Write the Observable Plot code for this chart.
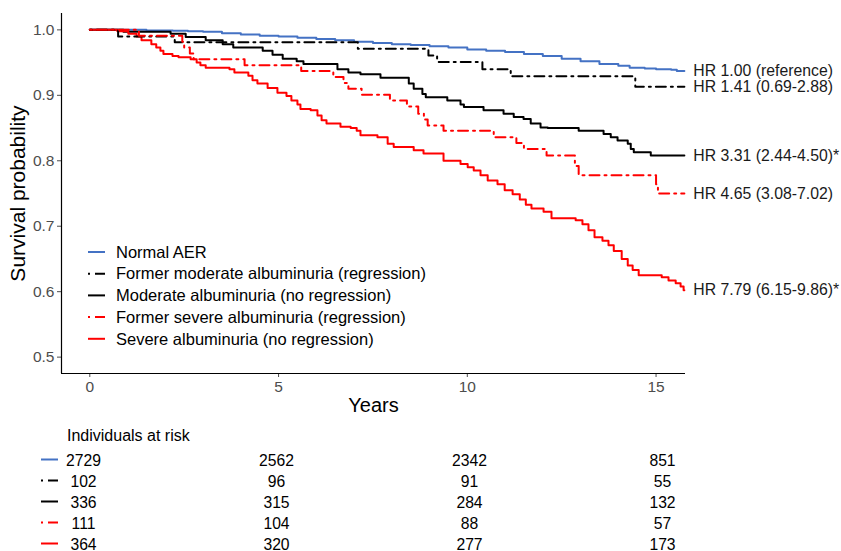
<!DOCTYPE html>
<html>
<head>
<meta charset="utf-8">
<script src="https://cdn.jsdelivr.net/npm/d3@7"></script>
<script src="https://cdn.jsdelivr.net/npm/@observablehq/plot@0.6"></script>
<style>
  body { margin: 0; background: #fff; font-family: "Liberation Sans", Arial, sans-serif; }
  #chart { width: 841px; height: 551px; }
  #chart svg { display: block; overflow: visible; }
</style>
</head>
<body>
<div id="chart"></div>
<script>
// Groups, styles and hazard-ratio annotations
const groups = [
  "Normal AER",
  "Former moderate albuminuria (regression)",
  "Moderate albuminuria (no regression)",
  "Former severe albuminuria (regression)",
  "Severe albuminuria (no regression)"
];
const colors = ["#4472c4", "#000000", "#000000", "#ff0000", "#ff0000"];
const dashed = [false, true, false, true, false];
const hrLabels = [
  "HR 1.00 (reference)",
  "HR 1.41 (0.69-2.88)",
  "HR 3.31 (2.44-4.50)*",
  "HR 4.65 (3.08-7.02)",
  "HR 7.79 (6.15-9.86)*"
];
const followUpEnd = 15.75;

// Kaplan-Meier estimates: event times (years) and survival after each step
const normalTime = [0, 0.8, 1.5, 2.2, 2.6, 3.0, 3.5, 4.0, 4.5, 5.0, 5.5, 6.0, 6.5, 7.0, 7.5, 8.0, 8.5, 9.0, 9.5, 10.0, 10.5, 11.0, 11.5, 12.0, 12.5, 13.0, 13.5, 14.0, 14.3, 14.7, 15.0, 15.4, 15.55];
const normalSurv = [1.000, 1.000, 0.999, 0.9985, 0.998, 0.997, 0.995, 0.993, 0.991, 0.990, 0.988, 0.986, 0.984, 0.982, 0.980, 0.978, 0.977, 0.975, 0.973, 0.970, 0.968, 0.966, 0.963, 0.960, 0.956, 0.952, 0.948, 0.945, 0.942, 0.941, 0.940, 0.939, 0.937];

const formerModTime = [0, 0.75, 2.25, 7.1, 8.97, 9.2, 10.4, 11.15, 14.45];
const formerModSurv = [1.000, 0.990, 0.981, 0.971, 0.961, 0.951, 0.940, 0.929, 0.913];

const moderateTime = [0, 0.89, 2.14, 2.54, 3.07, 3.52, 3.80, 4.58, 4.84, 5.11, 5.48, 5.66, 6.56, 6.85, 7.17, 7.70, 8.45, 8.58, 8.81, 8.90, 9.47, 9.82, 9.91, 10.43, 10.96, 11.23, 11.49, 11.68, 11.94, 12.13, 12.95, 13.61, 13.80, 13.98, 14.25, 14.33, 14.41, 14.86];
const moderateSurv = [1.000, 0.997, 0.994, 0.989, 0.984, 0.978, 0.973, 0.968, 0.962, 0.956, 0.952, 0.948, 0.940, 0.935, 0.932, 0.927, 0.918, 0.910, 0.902, 0.897, 0.892, 0.886, 0.882, 0.877, 0.872, 0.867, 0.864, 0.857, 0.851, 0.850, 0.846, 0.841, 0.836, 0.831, 0.826, 0.818, 0.813, 0.808];

const formerSevTime = [0, 1.3, 2.45, 2.5, 2.65, 2.75, 4.1, 5.6, 6.45, 6.72, 6.85, 7.2, 7.95, 8.4, 8.7, 8.85, 8.95, 9.37, 10.7, 11.3, 11.5, 12.1, 12.85, 12.95, 15.0, 15.05];
const formerSevSurv = [1.000, 0.991, 0.982, 0.973, 0.964, 0.955, 0.946, 0.937, 0.928, 0.919, 0.910, 0.901, 0.892, 0.883, 0.872, 0.863, 0.854, 0.846, 0.836, 0.827, 0.818, 0.808, 0.792, 0.778, 0.764, 0.750];

const severeTime = [0, 0.73, 1.02, 1.24, 1.37, 1.63, 1.76, 1.87, 1.95, 2.19, 2.35, 2.67, 2.83, 2.93, 3.07, 3.70, 3.83, 4.20, 4.31, 4.44, 4.71, 4.97, 5.21, 5.34, 5.50, 5.58, 5.85, 6.03, 6.14, 6.27, 6.64, 6.91, 7.07, 7.17, 7.62, 7.89, 8.05, 8.58, 8.84, 9.37, 9.82, 10.01, 10.17, 10.35, 10.54, 10.80, 10.99, 11.20, 11.39, 11.55, 11.70, 12.02, 12.23, 12.87, 13.05, 13.21, 13.37, 13.58, 13.74, 13.88, 14.09, 14.25, 14.38, 14.54, 15.15, 15.33, 15.52, 15.65, 15.73];
const severeSurv = [1.000, 0.998, 0.994, 0.990, 0.984, 0.978, 0.973, 0.968, 0.963, 0.960, 0.958, 0.955, 0.950, 0.946, 0.942, 0.940, 0.935, 0.930, 0.923, 0.918, 0.911, 0.904, 0.899, 0.892, 0.886, 0.879, 0.877, 0.869, 0.862, 0.857, 0.852, 0.850, 0.846, 0.839, 0.836, 0.826, 0.821, 0.816, 0.811, 0.800, 0.795, 0.790, 0.785, 0.778, 0.770, 0.764, 0.755, 0.749, 0.741, 0.733, 0.727, 0.722, 0.712, 0.709, 0.703, 0.694, 0.683, 0.678, 0.671, 0.662, 0.650, 0.640, 0.633, 0.625, 0.622, 0.617, 0.613, 0.608, 0.602];

// Numbers at risk
const riskTimes = [0, 5, 10, 15];
const riskNormal = [2729, 2562, 2342, 851];
const riskFormerMod = [102, 96, 91, 55];
const riskModerate = [336, 315, 284, 132];
const riskFormerSev = [111, 104, 88, 57];
const riskSevere = [364, 320, 277, 173];

// Axis ticks
const xTicks = [0, 5, 10, 15];
const yTicks = [0.5, 0.6, 0.7, 0.8, 0.9, 1.0];

const curveTimes = [normalTime, formerModTime, moderateTime, formerSevTime, severeTime];
const curveSurv = [normalSurv, formerModSurv, moderateSurv, formerSevSurv, severeSurv];
const riskCounts = [riskNormal, riskFormerMod, riskModerate, riskFormerSev, riskSevere];

const rows = [];
const ends = [];
groups.forEach((g, i) => {
  const ts = curveTimes[i], ss = curveSurv[i];
  ts.forEach((t, j) => rows.push({group: g, t, s: ss[j], dashed: dashed[i]}));
  const last = ss[ss.length - 1];
  rows.push({group: g, t: followUpEnd, s: last, dashed: dashed[i]});
  ends.push({group: g, t: followUpEnd, s: last, label: hrLabels[i]});
});

const riskRows = [];
groups.forEach((g, i) => riskTimes.forEach((t, j) => riskRows.push({group: g, t, n: String(riskCounts[i][j])})));

const xDomain = [-0.75, 15.78];
const yDomain = [0.475, 1.025];
const dash = "2,5,10,5";
const font = "'Liberation Sans', Arial, sans-serif";

const main = Plot.plot({
  width: 841,
  height: 420,
  marginLeft: 61,
  marginRight: 156,
  marginTop: 13,
  marginBottom: 47,
  style: {fontFamily: font, background: "#fff", overflow: "visible"},
  x: {domain: xDomain},
  y: {domain: yDomain},
  color: {domain: groups, range: colors},
  marks: [
    Plot.axisX({ticks: xTicks, tickSize: 4, tickPadding: 3, fontSize: 15.5, color: "#4d4d4d", label: null}),
    Plot.axisY({ticks: yTicks, tickSize: 4, tickPadding: 3, fontSize: 15.5, color: "#4d4d4d", label: null, tickFormat: d3.format(".1f")}),
    Plot.ruleX([xDomain[0]], {stroke: "#000", strokeWidth: 1.2}),
    Plot.ruleY([yDomain[0]], {stroke: "#000", strokeWidth: 1.2}),
    Plot.line(rows.filter(d => !d.dashed), {x: "t", y: "s", z: "group", stroke: "group", curve: "step-after", strokeWidth: 2}),
    Plot.line(rows.filter(d => d.dashed), {x: "t", y: "s", z: "group", stroke: "group", curve: "step-after", strokeWidth: 2, strokeDasharray: dash}),
    Plot.text(ends, {x: "t", y: "s", text: "label", dx: 9, textAnchor: "start", fontSize: 15.8, fill: "#1a1a1a"}),
    Plot.text(["Years"], {frameAnchor: "bottom", dy: 38, fontSize: 20, fill: "#000"}),
    Plot.text(["Survival probability"], {frameAnchor: "left", textAnchor: "middle", dx: -43, rotate: -90, fontSize: 21, fill: "#000"})
  ]
});

// Legend inside the plotting area
const svgMain = d3.select(main);
const leg = svgMain.append("g")
  .attr("font-family", font).attr("font-size", 16.5).attr("text-anchor", "start");
groups.forEach((g, i) => {
  const y = 252 + i * 21.7;
  leg.append("line").attr("x1", 88).attr("x2", 105).attr("y1", y).attr("y2", y)
    .attr("stroke", colors[i]).attr("stroke-width", 2)
    .attr("stroke-dasharray", dashed[i] ? dash : null);
  leg.append("text").attr("x", 116).attr("y", y).attr("dy", "0.35em")
    .attr("text-anchor", "start").attr("fill", "#000").text(g);
});

// Table of individuals at risk
const table = Plot.plot({
  width: 841,
  height: 131,
  marginLeft: 83,
  marginRight: 179,
  marginTop: 39.5,
  marginBottom: 7.5,
  style: {fontFamily: font, background: "#fff", overflow: "visible"},
  x: {domain: [0, 15], axis: null},
  y: {type: "point", domain: groups, padding: 0, axis: null},
  marks: [
    Plot.text(riskRows, {x: "t", y: "group", text: "n", fontSize: 15.7, fill: "#000"})
  ]
});
const svgTable = d3.select(table);
svgTable.append("text").attr("x", 67).attr("y", 15).attr("dy", "0.35em")
  .attr("text-anchor", "start")
  .attr("font-family", font).attr("font-size", 16).attr("fill", "#000").text("Individuals at risk");
groups.forEach((g, i) => {
  const y = 39.5 + i * 21;
  svgTable.append("line").attr("x1", 41).attr("x2", 58).attr("y1", y).attr("y2", y)
    .attr("stroke", colors[i]).attr("stroke-width", 2)
    .attr("stroke-dasharray", dashed[i] ? dash : null);
});

const chart = document.getElementById("chart");
chart.appendChild(main);
chart.appendChild(table);
</script>
</body>
</html>
